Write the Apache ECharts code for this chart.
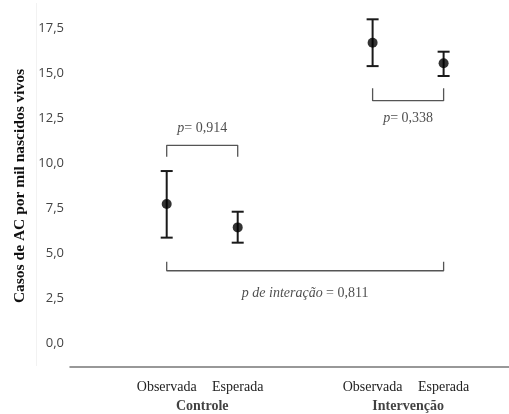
<!DOCTYPE html>
<html><head><meta charset="utf-8">
<script src="https://cdn.jsdelivr.net/npm/echarts@6/dist/echarts.min.js"></script>
<style>html,body{margin:0;padding:0;background:#fff}#c{width:509px;height:414px}</style>
</head><body><div id="c"></div>
<script>
// data
var groups = ['Controle', 'Intervenção'];
var categories = ['Observada', 'Esperada', 'Observada', 'Esperada'];
var groupOf = [0, 0, 1, 1];
var xPositions = [1, 2, 3.9, 4.9];
var means = [7.74, 6.44, 16.70, 15.56];
var lower = [5.87, 5.59, 15.40, 14.85];
var upper = [9.57, 7.31, 18.00, 16.20];
var yTicks = [0, 2.5, 5, 7.5, 10, 12.5, 15, 17.5];
var pLabels = ['0,914', '0,338', '0,811'];

var chart = echarts.init(document.getElementById('c'));
var serif = '"Liberation Serif", "DejaVu Serif", serif';
var ink = '#1a1a1a';
var bracketColor = '#555';

function fmt(v){ return v.toFixed(1).replace('.', ','); }

// bracket annotation shapes (data coords)
var brCtrl = [[xPositions[0], 10.37], [xPositions[0], 11.0], [xPositions[1], 11.0], [xPositions[1], 10.37]];
var brInt = [[xPositions[2], 14.17], [xPositions[2], 13.48], [xPositions[3], 13.48], [xPositions[3], 14.17]];
var brAll = [[xPositions[0], 4.53], [xPositions[0], 4.03], [xPositions[3], 4.03], [xPositions[3], 4.53]];

function bracketSeries(pts){
  return {type:'line', data: pts, symbol:'none', silent:true, z:1,
    lineStyle:{color: bracketColor, width:1.3}};
}

var richP = {
  i: {fontFamily: serif, fontStyle:'italic', fontSize:14, color:'#222'},
  n: {fontFamily: serif, fontSize:14, color:'#222'}
};

var option = {
  animation:false,
  grid:{left:70, right:0, top:3, bottom:47, containLabel:false},
  xAxis:{type:'value', min:-0.362, max:5.821,
    splitLine:{show:false},
    axisLine:{show:true, onZero:false, lineStyle:{color:'#777', width:1.5}},
    axisTick:{show:false},
    axisLabel:{show:true, customValues: xPositions, margin:13,
      formatter:function(v){
        var i = xPositions.indexOf(v);
        return i < 0 ? '' : categories[i];
      },
      fontFamily: serif, fontSize:14, color:'#222'}
  },
  yAxis:{type:'value', min:-1.317, max:18.906,
    splitLine:{show:false},
    axisLine:{show:false}, axisTick:{show:false},
    axisLabel:{customValues: yTicks, margin:6, formatter: fmt,
      fontFamily:'"Open Sans", sans-serif', fontSize:13, color:'#444'}
  },
  graphic:[
    {type:'line', shape:{x1:36.5,y1:3,x2:36.5,y2:366}, style:{stroke:'#f2f2f2', lineWidth:1}, silent:true},
    {type:'text', x:20, y:186, rotation:Math.PI/2, style:{text:'Casos de AC por mil nascidos vivos',
      font:'bold 15.5px ' + serif, fill:'#111', textAlign:'center', textVerticalAlign:'middle'}}
  ],
  series:[
    bracketSeries(brCtrl), bracketSeries(brInt), bracketSeries(brAll),
    {type:'custom', z:3,
      data: xPositions.map(function(x,i){return [x, lower[i], upper[i]];}),
      renderItem:function(params, api){
        var lo = api.coord([api.value(0), api.value(1)]);
        var hi = api.coord([api.value(0), api.value(2)]);
        var w = 6;
        var st = {stroke: ink, lineWidth:2};
        return {type:'group', children:[
          {type:'line', shape:{x1:lo[0],y1:lo[1],x2:hi[0],y2:hi[1]}, style:st},
          {type:'line', shape:{x1:lo[0]-w,y1:lo[1],x2:lo[0]+w,y2:lo[1]}, style:st},
          {type:'line', shape:{x1:hi[0]-w,y1:hi[1],x2:hi[0]+w,y2:hi[1]}, style:st}
        ]};
      }
    },
    {type:'scatter', z:4, symbol:'circle', symbolSize:10,
      itemStyle:{color:'#000'},
      data: xPositions.map(function(x,i){return [x, means[i]];})
    },
    {type:'scatter', z:5, symbolSize:0, silent:true,
      data:[
        {value:[(xPositions[0]+xPositions[1])/2, 11.96], label:{show:true, position:'inside', formatter:'{i|p}{n|= ' + pLabels[0] + '}', rich:richP}},
        {value:[(xPositions[2]+xPositions[3])/2, 12.5], label:{show:true, position:'inside', formatter:'{i|p}{n|= ' + pLabels[1] + '}', rich:richP}},
        {value:[(xPositions[0]+xPositions[3])/2, 2.8], label:{show:true, position:'inside', formatter:'{i|p de interação} {n|= ' + pLabels[2] + '}', rich:richP}}
      ]
    },
    {type:'scatter', z:5, symbolSize:0, silent:true,
      data: groups.map(function(g, gi){
        var xs = xPositions.filter(function(_, k){return groupOf[k]===gi;});
        return {value:[(xs[0]+xs[xs.length-1])/2, -1.317], label:{show:true, position:'inside', offset:[0, 39],
          formatter: g, fontFamily: serif, fontWeight:'bold', fontSize:14, color:'#111'}};
      })
    }
  ]
};
chart.setOption(option);
</script></body></html>
